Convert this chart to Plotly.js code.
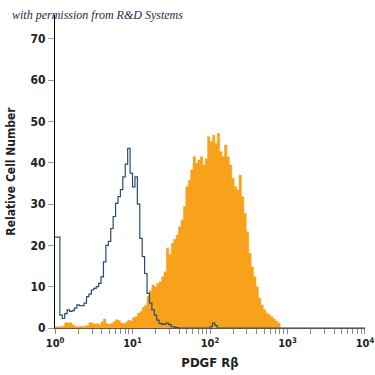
<!DOCTYPE html>
<html><head><meta charset="utf-8">
<script src="https://cdn.plot.ly/plotly-3.0.1.min.js"></script>
<style>html,body{margin:0;padding:0;background:#fff;} #chart{width:375px;height:375px;}</style>
</head><body><div id="chart"></div>
<script>
// 128 log-spaced channels over 4 decades (10^0 .. 10^4)
const nBins = 128;
const decades = 4;

// Isotype control (blue outline)
const isotypeCounts = [
 22,22,3.1,2.3,3.5,4.4,4.0,4.2,4.8,5.6,
 5.4,5.4,6.0,7.6,8.2,9.2,9.6,10.0,10.8,12.4,
 16.0,20.0,21.0,24.1,27.0,30.2,31.8,33.5,36.6,39.7,
 43.5,37.5,34.2,36.6,30.0,21.7,17.3,13.2,8.4,6.0,
 4.4,3.1,1.9,1.1,0.9,1.0,1.2,0.8,0.3,0.2,
 0.1,0,0,0,0,0,0,0,0,0,
 0,0,0,0,0.3,1.2,0.6,0,0,0,
 0,0,0,0,0,0,0,0,0,0,
 0,0,0,0,0,0,0,0,0,0,
 0,0,0,0,0,0,0,0,0,0,
 0,0,0,0,0,0,0,0,0,0,
 0,0,0,0,0,0,0,0,0,0,
 0,0,0,0,0,0,0,0
];

// PDGF Rβ stained (orange filled)
const pdgfCounts = [
 0.3,0.3,0.3,0.5,1.3,1.2,1.3,0.8,0.4,0.3,
 0.4,0.3,0.5,0.6,1.3,1.2,0.9,1.0,0.8,1.5,
 2.2,1.0,0.9,1.1,1.6,2.0,1.8,1.2,1.1,1.4,
 1.9,1.7,2.5,2.8,3.6,4.0,5.0,5.5,7.6,9.0,
 10.4,10.0,10.8,11.2,12.4,13.6,19.3,17.8,20.5,21.5,
 22.5,24.5,26.1,29.4,34.2,35.8,38.3,41.5,39.9,40.7,
 41.5,39.5,41.0,46.3,45.1,46.7,44.7,47.1,42.7,41.5,
 44.3,41.5,39.5,36.2,34.2,33.4,37.0,31.8,27.8,23.3,
 18.1,14.8,12.4,10.0,7.2,5.6,4.4,3.6,3.2,2.7,
 2.2,1.7,1.2,0,0,0,0,0,0,0,
 0,0,0,0,0,0,0,0,0,0,
 0,0,0,0,0,0,0,0,0,0,
 0,0,0,0,0,0,0,0
];

const xTickVals = [1, 10, 100, 1000, 10000];
const xTickText = ['10<sup>0</sup>', '10<sup>1</sup>', '10<sup>2</sup>', '10<sup>3</sup>', '10<sup>4</sup>'];
const xMinorVals = [2,3,4,5,6,7,8,9,20,30,40,50,60,70,80,90,200,300,400,500,600,700,800,900,2000,3000,4000,5000,6000,7000,8000,9000];
const yTickVals = [0, 10, 20, 30, 40, 50, 60, 70];

function stepXY(counts) {
  const x = [], y = [];
  for (let i = 0; i <= nBins; i++) {
    x.push(Math.pow(10, i * decades / nBins));
    y.push(counts[Math.min(i, nBins - 1)]);
  }
  return {x, y};
}

const o = stepXY(pdgfCounts);
const b = stepXY(isotypeCounts);

const FONT = '"Liberation Sans Narrow", "DejaVu Sans Condensed", Arial, sans-serif';

const traces = [
  {x: o.x, y: o.y, type: 'scatter', mode: 'lines', line: {shape: 'hv', color: '#f8a21c', width: 0.5},
   fill: 'tozeroy', fillcolor: '#f8a21c', hoverinfo: 'skip'},
  {x: b.x, y: b.y, type: 'scatter', mode: 'lines', line: {shape: 'hv', color: '#2a4a70', width: 1.2},
   hoverinfo: 'skip'}
];

const layout = {
  width: 375, height: 375,
  margin: {l: 55, r: 10, t: 15, b: 47},
  paper_bgcolor: '#fff', plot_bgcolor: '#fff',
  showlegend: false,
  font: {family: FONT, color: '#222'},
  xaxis: {
    type: 'log', range: [-0.0005, 4.0005], tickmode: 'array', tickvals: xTickVals, ticktext: xTickText,
    ticks: 'outside', ticklen: 5, tickcolor: '#888', tickwidth: 1, ticklabeloverflow: 'allow',
    showline: true, linecolor: '#555', linewidth: 1, showgrid: false, zeroline: false,
    tickfont: {family: FONT, size: 11, color: '#222', weight: 'bold'},
    minor: {tickmode: 'array', tickvals: xMinorVals, ticks: 'outside', ticklen: 5, tickcolor: '#888', showgrid: false},
    title: {text: 'PDGF Rβ', font: {family: FONT, size: 13, color: '#222', weight: 'bold'}, standoff: 8}
  },
  yaxis: {
    range: [0, 75.8], tickmode: 'array', tickvals: yTickVals,
    ticks: 'outside', ticklen: 6, tickcolor: '#999', tickwidth: 1,
    showline: true, linecolor: '#000', linewidth: 1, showgrid: false, zeroline: false,
    tickfont: {family: FONT, size: 12, color: '#222', weight: 'bold'},
    title: {text: 'Relative Cell Number', font: {family: FONT, size: 12, color: '#222', weight: 'bold'}, standoff: 12}
  },
  annotations: [{
    text: 'with permission from R&amp;D Systems', xref: 'paper', yref: 'paper',
    x: -0.145, y: 1.0, xanchor: 'left', yanchor: 'middle', showarrow: false,
    font: {family: '"Liberation Serif", "DejaVu Serif", serif', size: 12, color: '#1c2b4a', style: 'italic'}
  }]
};

Plotly.newPlot('chart', traces, layout, {displayModeBar: false, staticPlot: true});
</script>
</body></html>
